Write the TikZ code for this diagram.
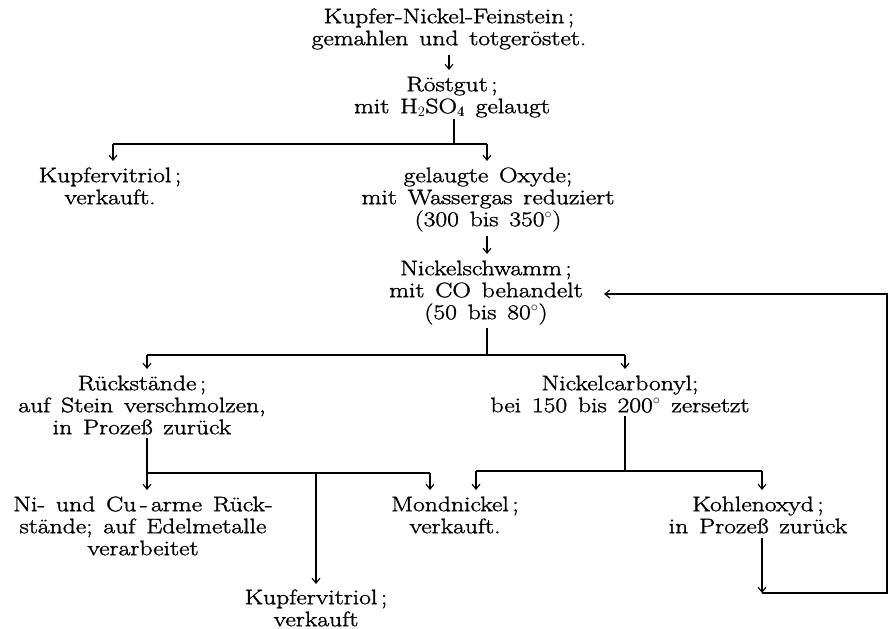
\documentclass[tikz,border=0pt]{standalone}
\usepackage{fontspec}
\newfontfamily\reffont{Latin Modern Roman}[FakeStretch=1.22, WordSpace=1.4, FakeBold=1.5]
\usetikzlibrary{arrows.meta,calc}
\newcommand\mystrut{\rule{0pt}{15pt}}
\begin{document}
\begin{tikzpicture}[x=1pt,y=-1pt,
  txt/.style={align=center,inner sep=0pt,anchor=north,
    font=\reffont\fontsize{21}{22}\selectfont},
  thk/.style={line width=2.3pt},
  arr/.style={line width=1.1pt,-{Straight Barb[length=5pt,width=8pt,line width=1.1pt]}},
]
\useasboundingbox (0,0) rectangle (889,629);

% text nodes
\node[txt] (feinstein) at (449,8) {\mystrut Kupfer-Nickel-Feinstein\,;\\gemahlen und totgeröstet.};
\node[txt] (roestgut) at (452,76) {\mystrut Röstgut\,;\\mit H$_2$SO$_{\mathbf 4}$ gelaugt};
\node[txt] (vitriolA) at (110,167) {\mystrut Kupfervitriol\,;\\verkauft.};
\node[txt] (oxyde) at (488,167) {\mystrut gelaugte Oxyde;\\mit Wassergas reduziert\\(300 bis 350$^\circ$)};
\node[txt] (schwamm) at (486,260) {\mystrut Nickelschwamm\,;\\mit CO behandelt\\(50 bis 80$^\circ$)};
\node[txt] (rueck) at (142,375) {\mystrut Rückstände\,;\\auf Stein verschmolzen,\\in Prozeß zurück};
\node[txt] (carbonyl) at (620,375) {\mystrut Nickelcarbonyl;\\bei 150 bis 200$^\circ$ zersetzt};
\node[txt] (arme) at (143,496) {\mystrut Ni- und Cu\,-\,arme Rück-\\stände; auf Edelmetalle\\verarbeitet};
\node[txt] (mond) at (455,496) {\mystrut Mondnickel\,;\\verkauft.};
\node[txt] (kohle) at (758,496) {\mystrut Kohlenoxyd\,;\\in Prozeß zurück};
\node[txt] (vitriolB) at (316,589) {\mystrut Kupfervitriol\,;\\verkauft};

% junction coordinates
\coordinate (b1) at (454,144);
\coordinate (b1l) at (113,144);
\coordinate (b1r) at (487,144);
\coordinate (b2) at (487,355);
\coordinate (b2l) at (147,355);
\coordinate (b2r) at (625,355);
\coordinate (b3) at (147,473);
\coordinate (b3m) at (316,473);
\coordinate (b3r) at (430,473);
\coordinate (b4) at (625,471);
\coordinate (b4l) at (476,471);
\coordinate (b4r) at (762,471);
\coordinate (k1) at (762,593);
\coordinate (k2) at (887,593);
\coordinate (k3) at (887,294);
\coordinate (k4) at (627,294);
\coordinate (tip) at (604,294);

% connectors
\draw[arr] ([yshift=-5pt]feinstein.south) -- ([yshift=6pt]feinstein.south |- roestgut.north);
\draw[thk] ([yshift=-1pt]roestgut.south -| b1) -- (b1);
\draw[thk] (b1l) -- (b1r);
\draw[arr] (b1l) -- ([yshift=6pt]vitriolA.north -| b1l);
\draw[arr] (b1r) -- ([yshift=6pt]oxyde.north -| b1r);
\draw[arr] ([yshift=-4pt]oxyde.south -| b1r) -- ([yshift=6pt]schwamm.north -| b1r);

\draw[thk] ([yshift=-3pt]schwamm.south -| b2) -- (b2);
\draw[thk] (b2l) -- (b2r);
\draw[arr] (b2l) -- ([yshift=6pt]rueck.north -| b2l);
\draw[arr] (b2r) -- ([yshift=6pt]carbonyl.north -| b2r);

\draw[thk] ([yshift=-3pt]rueck.south -| b3) -- (b3);
\draw[thk] (b3) -- (b3r);
\draw[arr] (b3) -- ([yshift=6pt]arme.north -| b3);
\draw[arr] (b3r) -- ([yshift=6pt]mond.north -| b3r);
\draw[thk] (b3m) -- ([yshift=16pt]vitriolB.north -| b3m);
\draw[arr] ([yshift=17pt]vitriolB.north -| b3m) -- ([yshift=5pt]vitriolB.north -| b3m);

\draw[thk] ([yshift=-3pt]carbonyl.south -| b4) -- (b4);
\draw[thk] (b4l) -- (b4r);
\draw[arr] (b4l) -- ([yshift=6pt]mond.north -| b4l);
\draw[arr] (b4r) -- ([yshift=6pt]kohle.north -| b4r);

\draw[arr] ([yshift=-4pt]kohle.south -| k1) -- (k1);
\draw[thk] (k1) -- (k2) -- (k3) -- (k4);
\draw[arr] (k4) -- (tip);
\end{tikzpicture}
\end{document}
